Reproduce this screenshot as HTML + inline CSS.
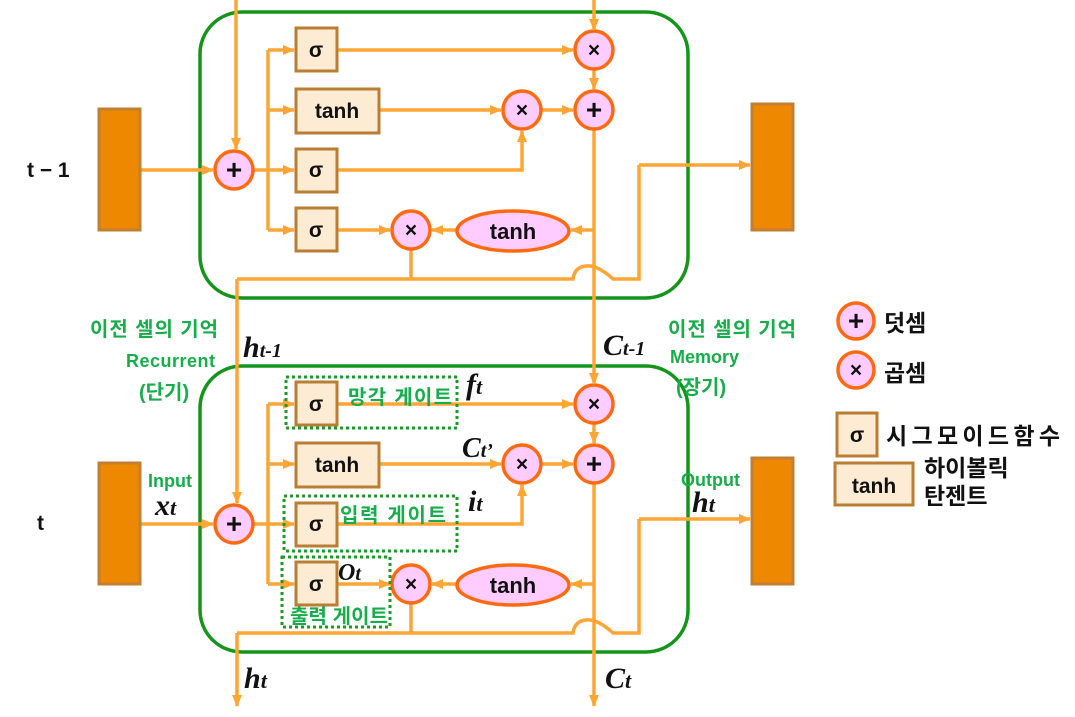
<!DOCTYPE html>
<html><head><meta charset="utf-8"><style>
html,body{margin:0;padding:0;background:#fff;width:1075px;height:717px;overflow:hidden}
svg{display:block}
.k{font-family:"Liberation Sans","Noto Sans CJK KR",sans-serif;font-weight:bold}
.g{fill:#17ad4a}
.m{font-family:"Liberation Serif",serif;font-style:italic;font-weight:bold;fill:#111}
</style></head><body>
<svg width="1075" height="717" viewBox="0 0 1075 717" xmlns="http://www.w3.org/2000/svg">
<defs>
<marker id="a" markerWidth="12" markerHeight="12" refX="11" refY="6" orient="auto" markerUnits="userSpaceOnUse"><path d="M0,1 L12,6 L0,11 z" fill="#ffa535"/></marker>
<g id="cell">
 <rect x="200" y="12" width="488" height="286" rx="42" fill="none" stroke="#14951a" stroke-width="3.5"/>
 <g stroke="#ffa535" stroke-width="3.5" fill="none">
  <line x1="254" y1="170" x2="294" y2="170" marker-end="url(#a)"/>
  <polyline points="268,50 268,230"/>
  <line x1="268" y1="50" x2="294" y2="50" marker-end="url(#a)"/>
  <line x1="268" y1="110" x2="294" y2="110" marker-end="url(#a)"/>
  <line x1="268" y1="230" x2="294" y2="230" marker-end="url(#a)"/>
  <line x1="337" y1="50" x2="573" y2="50" marker-end="url(#a)"/>
  <line x1="379" y1="110" x2="501" y2="110" marker-end="url(#a)"/>
  <line x1="542" y1="110" x2="573" y2="110" marker-end="url(#a)"/>
  <polyline points="337,170 522,170 522,131" marker-end="url(#a)"/>
  <line x1="594" y1="70" x2="594" y2="89" marker-end="url(#a)"/>
  <line x1="337" y1="230" x2="390" y2="230" marker-end="url(#a)"/>
  <line x1="594" y1="230" x2="571" y2="230" marker-end="url(#a)"/>
  <line x1="456" y1="230" x2="432" y2="230" marker-end="url(#a)"/>
  <line x1="411" y1="250" x2="411" y2="279"/>
  <path d="M237,279 L573,279 Q575,265 590,266 Q600,267 613,279 L639,279 L639,165"/>
  <line x1="594" y1="130" x2="594" y2="300"/>
 </g>
 <g stroke="#b97d33" stroke-width="3" fill="#fdebd3">
  <rect x="296" y="28" width="41" height="43"/>
  <rect x="296" y="89" width="83" height="44"/>
  <rect x="296" y="149" width="41" height="43"/>
  <rect x="296" y="208" width="41" height="43"/>
 </g>
 <g class="k" font-size="21" text-anchor="middle" fill="#111">
  <text x="316" y="57">σ</text><text x="337" y="118">tanh</text>
  <text x="316" y="177">σ</text><text x="316" y="237">σ</text>
 </g>
 <g stroke="#ff6a10" stroke-width="3.5" fill="#ffccff">
  <circle cx="234" cy="170" r="19"/><circle cx="594" cy="50" r="19"/>
  <circle cx="594" cy="110" r="19"/><circle cx="522" cy="110" r="19"/>
  <circle cx="411" cy="230" r="19"/>
  <ellipse cx="513" cy="231" rx="56" ry="20"/>
 </g>
 <g class="k" text-anchor="middle" fill="#111">
  <text x="234" y="179" font-size="28">+</text><text x="594" y="119" font-size="28">+</text>
  <text x="594" y="57" font-size="21">×</text><text x="522" y="117" font-size="21">×</text>
  <text x="411" y="237" font-size="21">×</text>
  <text x="513" y="239" font-size="22">tanh</text>
 </g>
 <g stroke="#ffa535" stroke-width="3.5" fill="none">
  <line x1="141" y1="170" x2="213" y2="170" marker-end="url(#a)"/>
  <polyline points="639,165 750,165" marker-end="url(#a)"/>
 </g>
 <g stroke="#c17f32" stroke-width="3" fill="#ee8800">
  <rect x="99" y="109" width="41" height="121"/>
  <rect x="752" y="104" width="41" height="126"/>
 </g>
</g>
</defs>
<use href="#cell"/>
<use href="#cell" transform="translate(0,354)"/>
<g stroke="#ffa535" stroke-width="3.5" fill="none">
 <line x1="236" y1="0" x2="236" y2="149" marker-end="url(#a)"/>
 <line x1="594" y1="0" x2="594" y2="30" marker-end="url(#a)"/>
 <line x1="237" y1="279" x2="237" y2="503" marker-end="url(#a)"/>
 <line x1="594" y1="298" x2="594" y2="384" marker-end="url(#a)"/>
 <line x1="237" y1="633" x2="237" y2="706" marker-end="url(#a)"/>
 <line x1="594" y1="652" x2="594" y2="706" marker-end="url(#a)"/>
</g>
<g fill="none" stroke="#1c9a28" stroke-width="3" stroke-dasharray="3,3">
 <rect x="286" y="377" width="171" height="51"/>
 <rect x="284" y="496" width="173" height="55"/>
 <rect x="282" y="557" width="108" height="70"/>
</g>
<g class="k g" font-size="20">
 <text x="348" y="404" textLength="104">망각 게이트</text>
 <text x="340" y="522" textLength="106">입력 게이트</text>
 <text x="290" y="623" textLength="98">출력 게이트</text>
 <text x="90" y="336" textLength="128">이전 셀의 기억</text>
 <text x="126" y="367" font-size="18" textLength="89">Recurrent</text>
 <text x="139" y="399">(단기)</text>
 <text x="148" y="487" font-size="18">Input</text>
 <text x="668" y="336" textLength="128">이전 셀의 기억</text>
 <text x="670" y="363" font-size="18">Memory</text>
 <text x="676" y="394">(장기)</text>
 <text x="681" y="486" font-size="18">Output</text>
</g>
<g class="k" fill="#111" font-size="21">
 <text x="27" y="177">t − 1</text>
 <text x="37" y="530">t</text>
</g>
<g class="m">
 <text x="243" y="357" font-size="30">h<tspan font-size="20">t-1</tspan></text>
 <text x="603" y="355" font-size="30">C<tspan font-size="20">t-1</tspan></text>
 <text x="466" y="394" font-size="30">f<tspan font-size="22">t</tspan></text>
 <text x="462" y="457" font-size="28">C<tspan font-size="20">t’</tspan></text>
 <text x="468" y="511" font-size="30">i<tspan font-size="22">t</tspan></text>
 <text x="338" y="580" font-size="24">O<tspan font-size="20">t</tspan></text>
 <text x="155" y="515" font-size="30">x<tspan font-size="22">t</tspan></text>
 <text x="692" y="512" font-size="30">h<tspan font-size="22">t</tspan></text>
 <text x="244" y="688" font-size="30">h<tspan font-size="22">t</tspan></text>
 <text x="605" y="688" font-size="30">C<tspan font-size="22">t</tspan></text>
</g>
<g stroke="#ff6a10" stroke-width="3.5" fill="#ffccff">
 <circle cx="856" cy="321" r="18"/><circle cx="856" cy="370" r="18"/>
</g>
<g stroke="#b97d33" stroke-width="3" fill="#fdebd3">
 <rect x="837" y="413" width="40" height="43"/>
 <rect x="835" y="463" width="78" height="42"/>
</g>
<g class="k" fill="#111">
 <text x="856" y="330" font-size="28" text-anchor="middle">+</text>
 <text x="856" y="377" font-size="21" text-anchor="middle">×</text>
 <text x="857" y="442" font-size="21" text-anchor="middle">σ</text>
 <text x="874" y="493" font-size="21" text-anchor="middle">tanh</text>
 <text x="884" y="331" font-size="23">덧셈</text>
 <text x="884" y="381" font-size="23">곱셈</text>
 <text x="886" y="444" font-size="23" textLength="174">시그모이드함수</text>
 <text x="924" y="476" font-size="23">하이볼릭</text>
 <text x="924" y="504" font-size="23">탄젠트</text>
</g>
</svg>
</body></html>
